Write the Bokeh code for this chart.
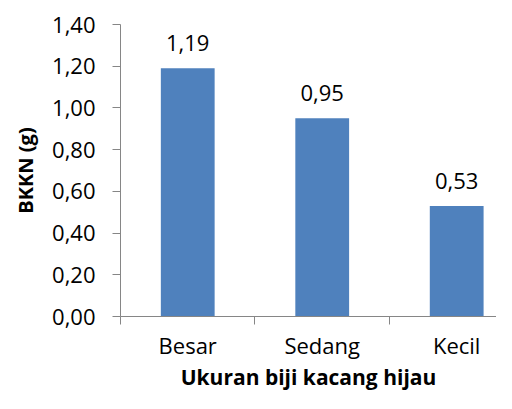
from bokeh.plotting import figure
from bokeh.models import ColumnDataSource, FixedTicker, LabelSet, Range1d, CustomJSTickFormatter
from bokeh.core.properties import value
from bokeh.embed import file_html
from bokeh.resources import INLINE

categories = ["Besar", "Sedang", "Kecil"]
values = [1.19, 0.95, 0.53]
value_labels = ["1,19", "0,95", "0,53"]
y_ticks = [0.0, 0.2, 0.4, 0.6, 0.8, 1.0, 1.2, 1.4]

x_centers = [i + 0.5 for i in range(len(categories))]
x_bounds = list(range(len(categories) + 1))

src = ColumnDataSource(dict(x=x_centers, top=values, label=value_labels))

FONT = "Open Sans"
AX = "#868686"

p = figure(width=496, height=393, output_backend="svg", toolbar_location=None,
           x_range=Range1d(0, 2.796), y_range=Range1d(0, 1.4),
           min_border_left=120, min_border_right=0, min_border_top=24, min_border_bottom=70)
p.outline_line_color = None
p.xgrid.visible = False
p.ygrid.visible = False

p.vbar(x="x", top="top", bottom=0, width=0.4, source=src, fill_color="#4F81BD", line_color=None)

labels = LabelSet(x="x", y="top", text="label", source=src, text_align="center",
                  text_baseline="alphabetic", y_offset=17, text_font=value(FONT),
                  text_font_size=value("22px"), text_color="black")
p.add_layout(labels)

# x axis
xa = p.xaxis[0]
xa.ticker = FixedTicker(ticks=x_centers, minor_ticks=x_bounds)
xa.major_label_overrides = {c: n for c, n in zip(x_centers, categories)}
xa.major_tick_line_color = None
xa.major_tick_out = 8
xa.major_tick_in = 0
xa.minor_tick_line_color = AX
xa.minor_tick_out = 8
xa.minor_tick_in = 0
xa.axis_line_color = AX
xa.major_label_text_font = FONT
xa.major_label_text_font_size = "22px"
xa.major_label_text_color = "black"
xa.major_label_standoff = 5
xa.axis_label = "Ukuran biji kacang hijau"
xa.axis_label_text_font = FONT
xa.axis_label_text_font_style = "bold"
xa.axis_label_text_font_size = "21px"
xa.axis_label_text_color = "black"
xa.axis_label_standoff = 0

# y axis
ya = p.yaxis[0]
ya.ticker = FixedTicker(ticks=y_ticks, minor_ticks=[])
ya.formatter = CustomJSTickFormatter(code="return tick.toFixed(2).replace('.', ',');")
ya.major_tick_line_color = AX
ya.major_tick_out = 8
ya.major_tick_in = 0
ya.minor_tick_line_color = None
ya.axis_line_color = AX
ya.major_label_text_font = FONT
ya.major_label_text_font_size = "22px"
ya.major_label_text_color = "black"
ya.major_label_standoff = 17
ya.axis_label = "BKKN (g)"
ya.axis_label_text_font = FONT
ya.axis_label_text_font_style = "bold"
ya.axis_label_text_font_size = "20px"
ya.axis_label_text_color = "black"
ya.axis_label_standoff = 10

open("out.html", "w").write(file_html(p, INLINE))
